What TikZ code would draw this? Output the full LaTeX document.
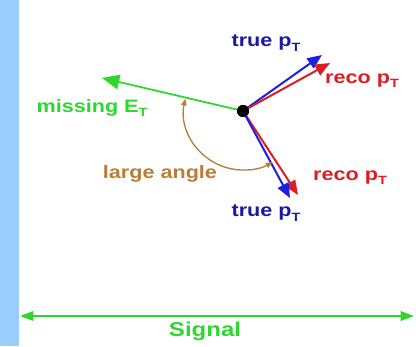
\documentclass[tikz,border=0pt]{standalone}
\usepackage{fontspec}
\setmainfont{Liberation Sans}[FakeStretch=1.2]
\usetikzlibrary{arrows.meta}
\definecolor{metgreen}{RGB}{45,215,45}
\definecolor{trueblue}{RGB}{25,25,165}
\definecolor{arrblue}{RGB}{30,30,225}
\definecolor{recored}{RGB}{220,30,35}
\definecolor{anglebrown}{RGB}{185,125,55}
\definecolor{sidebar}{RGB}{153,204,255}
\newcommand{\subT}{\raisebox{-0.45ex}{\fontsize{9}{10}\selectfont T}}
\begin{document}
\begin{tikzpicture}[x=0.75pt, y=0.75pt,
        lbl/.style={font=\fontsize{13.5}{16}\selectfont\bfseries, inner sep=0pt},
        vec/.style={line width=1.5pt, -{Triangle[length=11pt, width=9pt]}},
        anglearc/.style={anglebrown, line width=1pt, {Triangle[length=5pt, width=4pt]}-{Triangle[length=5pt, width=4pt]}}
    ]
        \useasboundingbox (0,0) rectangle (416,346);
        \fill[sidebar] (0,0) rectangle (19,346);

        % vertex and arrow ends
        \node[circle, fill=black, minimum size=9pt, inner sep=0pt] (vtx) at (243,235) {};
        \coordinate (met) at (102,268);
        \coordinate (trueup) at (322,291);
        \coordinate (recoup) at (330,283);
        \coordinate (recodn) at (298,151);
        \coordinate (truedn) at (290,148);

        \draw[vec, metgreen, line width=1.3pt, -{Triangle[length=13pt, width=11pt]}] (vtx.center) -- (met);
        \draw[vec, arrblue] (vtx.center) -- (trueup);
        \draw[vec, recored] (vtx.center) -- (recoup);
        \draw[vec, recored] (vtx.center) -- (recodn);
        \draw[vec, arrblue] (vtx.center) -- (truedn);
        \node[circle, fill=black, minimum size=9pt, inner sep=0pt] at (vtx) {};

        \draw[anglearc] ([shift=(168:44.25pt)]vtx.center) arc[start angle=168, end angle=300, radius=44.25pt];

        % labels
        \node[lbl, trueblue] (ttrueup) at (266,303) {true p\subT};
        \node[lbl, recored] (trecoup) at (362,265) {reco p\subT};
        \node[lbl, metgreen] (tmet) at (92,238) {missing E\subT};
        \node[lbl, recored] (trecodn) at (350,168) {reco p\subT};
        \node[lbl, trueblue] (ttruedn) at (266,133) {true p\subT};
        \node[lbl, anglebrown] (tangle) at (160,172) {large angle};

        % signal range
        \coordinate (sigl) at (20,30);
        \coordinate (sigr) at (414,30);
        \draw[metgreen, line width=1.6pt, {Triangle[length=10pt, width=7pt]}-{Triangle[length=10pt, width=7pt]}] (sigl) -- (sigr);
        \node[lbl, metgreen, font=\fontsize{15}{18}\selectfont\bfseries] (tsig) at (205,15) {Signal};
    \end{tikzpicture}
\end{document}
